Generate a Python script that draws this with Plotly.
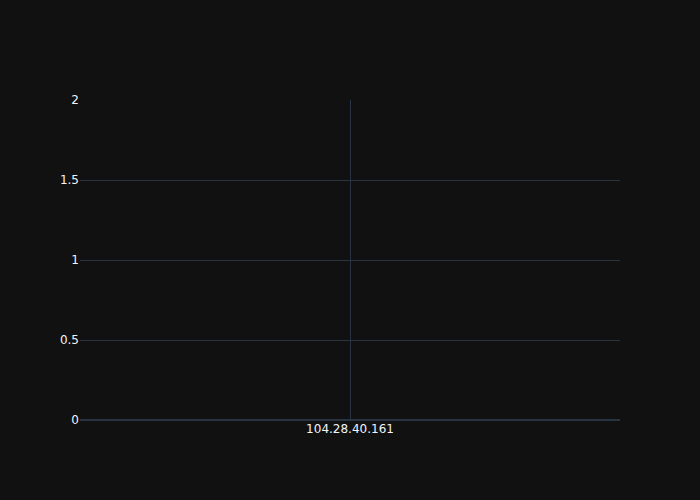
import plotly.graph_objects as go

categories = ["104.28.40.161"]
values = [1]

fig = go.Figure()
fig.add_trace(go.Scatter(x=categories, y=values, mode="lines"))
fig.update_layout(template="plotly_dark", width=700, height=500,
                  font=dict(family="DejaVu Sans"))
fig.write_html("out.html")
